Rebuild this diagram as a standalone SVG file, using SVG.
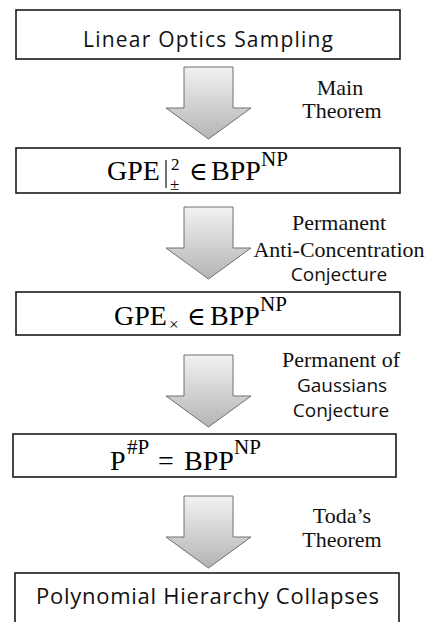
<svg xmlns="http://www.w3.org/2000/svg" width="429" height="622" viewBox="0 0 429 622">
<defs>
<linearGradient id="ag" x1="0" y1="0" x2="0" y2="1">
<stop offset="0" stop-color="#f2f2f2"/>
<stop offset="1" stop-color="#b4b4b4"/>
</linearGradient>
<path id="arrow" d="M0,0 H49 V41 H67 L24.5,72 L-18,41 H0 Z"/>
</defs>
<style>
.box{fill:#fff;stroke:#1a1a1a;stroke-width:1.6}
.sans{font-family:"Open Sans","Liberation Sans",sans-serif;fill:#111}
.math{font-family:"Liberation Serif","DejaVu Serif",serif;fill:#000}
.big{font-size:28px}
.sup{font-size:21px}
.sm{font-size:17px}
.lbl{font-family:"Liberation Serif","DejaVu Serif",serif;font-size:22px;fill:#111;text-anchor:middle}
.lbls{font-family:"Open Sans","Liberation Sans",sans-serif;font-size:19px;fill:#111;text-anchor:middle}
.arr{fill:url(#ag);stroke:#707070;stroke-width:1}
</style>
<rect width="429" height="622" fill="#fff"/>

<g id="connectors">
<use href="#arrow" x="184" y="67" class="arr"/>
<use href="#arrow" x="184" y="207" class="arr"/>
<use href="#arrow" x="184" y="355" class="arr"/>
<use href="#arrow" x="184" y="496" class="arr"/>
<text class="lbl" x="340" y="95">Main</text>
<text class="lbl" x="342" y="118">Theorem</text>
<text class="lbl" x="339" y="230">Permanent</text>
<text class="lbl" x="339" y="257">Anti-Concentration</text>
<text class="lbls" x="339" y="281">Conjecture</text>
<text class="lbl" x="341" y="367">Permanent of</text>
<text class="lbls" x="342" y="392">Gaussians</text>
<text class="lbls" x="341" y="417">Conjecture</text>
<text class="lbl" x="342" y="523">Toda’s</text>
<text class="lbl" x="342" y="547">Theorem</text>
</g>

<g id="n1">
<rect class="box" x="16" y="10" width="384" height="49"/>
<text class="sans" x="83" y="47" font-size="21" textLength="250" lengthAdjust="spacing">Linear Optics Sampling</text>
</g>

<g id="n2">
<rect class="box" x="16" y="148" width="384" height="45"/>
<text class="math big" x="107" y="180">GPE</text>
<line x1="166" y1="160" x2="166" y2="188" stroke="#000" stroke-width="1.1"/>
<text class="math sm" x="171" y="170">2</text>
<text class="math sm" x="170" y="190">±</text>
<text class="math" x="189" y="180" font-size="25">∈</text>
<text class="math big" x="211" y="180">BPP</text>
<text class="math sup" x="261" y="166">NP</text>
</g>

<g id="n3">
<rect class="box" x="16" y="292" width="384" height="43"/>
<text class="math big" x="114" y="325">GPE</text>
<text class="math sm" x="169" y="330">×</text>
<text class="math" x="187" y="325" font-size="25">∈</text>
<text class="math big" x="210" y="325">BPP</text>
<text class="math sup" x="260" y="311">NP</text>
</g>

<g id="n4">
<rect class="box" x="13" y="434" width="383" height="43"/>
<text class="math big" x="110" y="470">P</text>
<text class="math sup" x="127" y="454">#P</text>
<text class="math big" x="158" y="470">=</text>
<text class="math big" x="184" y="470">BPP</text>
<text class="math sup" x="234" y="454">NP</text>
</g>

<g id="n5">
<rect class="box" x="15" y="573" width="384" height="60"/>
<text class="sans" x="36" y="604" font-size="22" textLength="343" lengthAdjust="spacing">Polynomial Hierarchy Collapses</text>
</g>
</svg>
